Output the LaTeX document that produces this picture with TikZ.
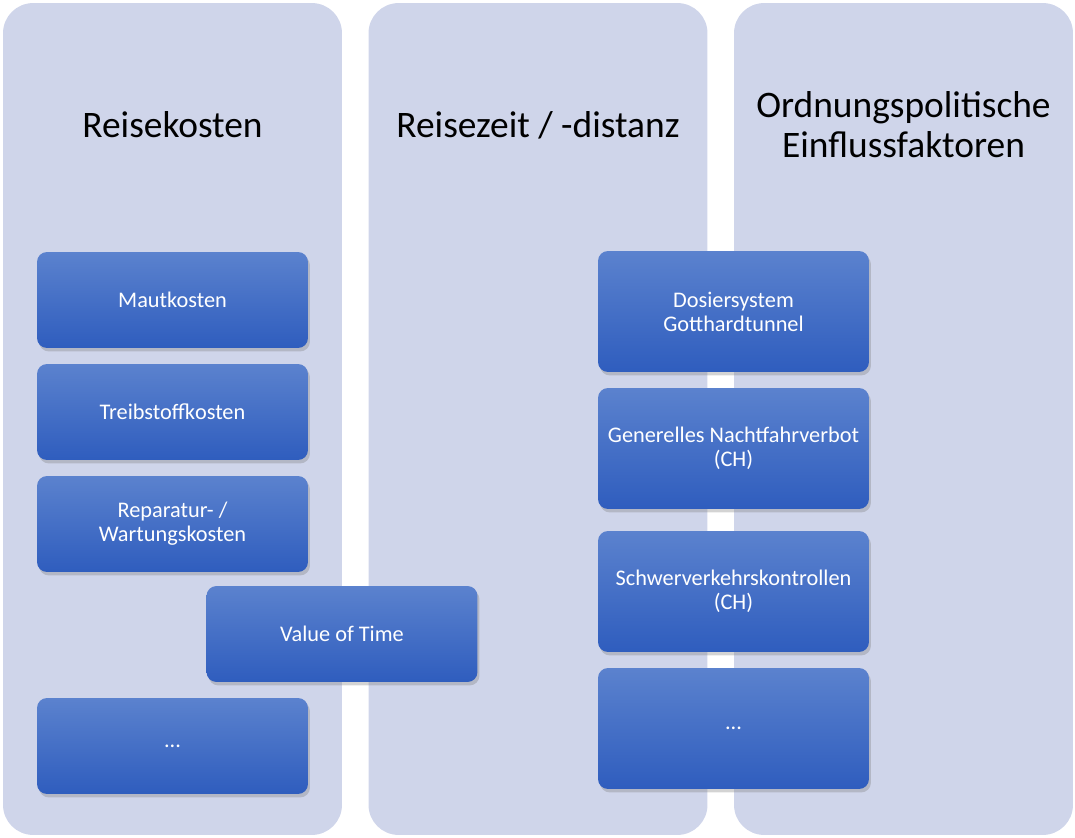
\documentclass[tikz,border=0pt]{standalone}
\usepackage{fontspec}
\setmainfont{Carlito}
\usetikzlibrary{shadows}
\definecolor{colbg}{HTML}{CFD5EA}
\definecolor{boxtop}{HTML}{5B82CE}
\definecolor{boxbot}{HTML}{2F5DBE}
\begin{document}
\begin{tikzpicture}[x=0.02cm,y=-0.02cm]
        \tikzstyle{column}=[rounded corners=0.6cm,fill=colbg,minimum width=6.78cm,minimum height=16.64cm]
        \tikzstyle{title}=[font=\fontsize{21.3}{22.7}\selectfont,align=center,text=black]
        \tikzstyle{factor}=[rounded corners=0.2cm,top color=boxtop,bottom color=boxbot,text=white,
                font=\fontsize{12.7}{13.6}\selectfont,align=center,minimum width=5.42cm,minimum height=1.92cm,
                drop shadow={opacity=0.35,shadow xshift=0.04cm,shadow yshift=-0.07cm}]
        \tikzstyle{factortall}=[factor,minimum height=2.42cm]
        \useasboundingbox (0,0) rectangle (1075,838);
        % columns
        \node [column] (col1) at (172.5,419) {};
        \node [column] (col2) at (538,419) {};
        \node [column] (col3) at (903.5,419) {};
        \node [title] (t1) at (172.5,125) {Reisekosten};
        \node [title] (t2) at (538,125) {Reisezeit / -distanz};
        \node [title] (t3) at (903.5,125) {Ordnungspolitische\\Einflussfaktoren};
        % left column
        \node [factor] (maut) at (172.5,300) {Mautkosten};
        \node [factor] (treib) at (172.5,412) {Treibstoffkosten};
        \node [factor] (rep) at (172.5,524) {Reparatur- /\\Wartungskosten};
        \node [factor] (vot) at (342,634) {Value of Time};
        \node [factor] (more1) at (172.5,746) {...};
        % right column
        \node [factortall] (dos) at (733.5,311.5) {Dosiersystem\\Gotthardtunnel};
        \node [factortall] (nacht) at (733.5,448.5) {Generelles Nachtfahrverbot\\(CH)};
        \node [factortall] (kontr) at (733.5,591.5) {Schwerverkehrskontrollen\\(CH)};
        \node [factortall] (more2) at (733.5,728.5) {...};
\end{tikzpicture}
\end{document}
